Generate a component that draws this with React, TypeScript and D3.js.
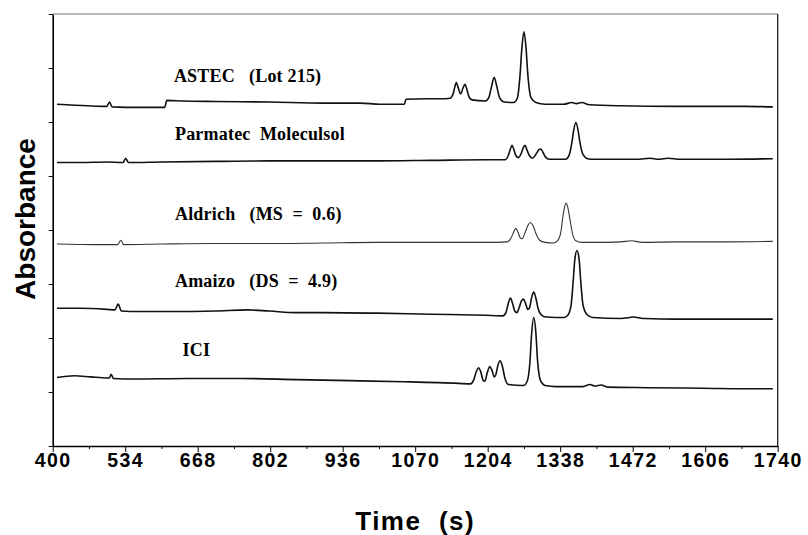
import React, { useEffect, useRef } from "react";
import * as d3 from "d3";

// axis ticks
const timeTicks = [400, 534, 668, 802, 936, 1070, 1204, 1338, 1472, 1606, 1740];
const timeMinor = [467, 601, 735, 869, 1003, 1137, 1271, 1405, 1539, 1673];
const absTicks = [0, 1, 2, 3, 4, 5, 6, 7, 8];

// traces: [time (s), absorbance (offset units)]
const astec: [number, number][] = [
  [408, 6.33], [465, 6.3], [500, 6.29], [505, 6.37], [510, 6.28], [560, 6.27], [607, 6.27],
  [611, 6.4], [640, 6.39], [700, 6.38], [800, 6.37], [900, 6.35], [968, 6.35], [1005, 6.33],
  [1050, 6.33], [1053, 6.42], [1090, 6.43], [1120, 6.43], [1134, 6.44],
  [1140, 6.52], [1143, 6.64], [1146, 6.73], [1149, 6.65], [1154, 6.52], [1158, 6.62],
  [1162, 6.7], [1165, 6.62], [1169, 6.48], [1175, 6.41], [1200, 6.39], [1206, 6.45],
  [1211, 6.65], [1216, 6.83], [1221, 6.65], [1226, 6.45], [1234, 6.37], [1252, 6.36],
  [1259, 6.45], [1264, 6.9], [1267, 7.35], [1271, 7.67], [1275, 7.35], [1278, 6.9],
  [1284, 6.45], [1293, 6.36], [1310, 6.33], [1345, 6.33], [1359, 6.36], [1368, 6.34],
  [1378, 6.36], [1392, 6.32], [1450, 6.3], [1550, 6.29], [1620, 6.29], [1680, 6.29],
  [1731, 6.28],
];

const parmatec: [number, number][] = [
  [408, 5.25], [450, 5.25], [500, 5.26], [530, 5.25], [535, 5.33], [540, 5.25], [600, 5.26],
  [700, 5.27], [800, 5.28], [900, 5.28], [1000, 5.28], [1100, 5.29], [1200, 5.3], [1236, 5.3],
  [1242, 5.38], [1246, 5.5], [1249, 5.57], [1252, 5.5], [1256, 5.38], [1261, 5.34],
  [1266, 5.42], [1270, 5.53], [1273, 5.57], [1276, 5.5], [1281, 5.38], [1287, 5.33],
  [1293, 5.4], [1298, 5.48], [1302, 5.5], [1306, 5.44], [1311, 5.35], [1318, 5.31],
  [1348, 5.31], [1355, 5.4], [1360, 5.65], [1363, 5.85], [1367, 5.99], [1371, 5.85],
  [1374, 5.65], [1380, 5.4], [1389, 5.32], [1400, 5.31], [1480, 5.31], [1504, 5.33],
  [1520, 5.31], [1537, 5.33], [1560, 5.31], [1650, 5.31], [1731, 5.32],
];

const aldrich: [number, number][] = [
  [408, 3.74], [480, 3.73], [520, 3.73], [526, 3.81], [531, 3.73], [600, 3.74], [700, 3.75],
  [800, 3.75], [900, 3.76], [1000, 3.77], [1100, 3.77], [1200, 3.77], [1240, 3.78],
  [1247, 3.85], [1252, 3.96], [1256, 4.03], [1260, 3.96], [1264, 3.86], [1268, 3.84],
  [1273, 3.95], [1278, 4.08], [1283, 4.14], [1288, 4.08], [1293, 3.94], [1300, 3.81],
  [1310, 3.77], [1325, 3.76], [1333, 3.8], [1339, 3.95], [1343, 4.25], [1346, 4.42],
  [1349, 4.5], [1352, 4.42], [1356, 4.2], [1361, 3.92], [1367, 3.8], [1378, 3.77],
  [1400, 3.77], [1450, 3.78], [1470, 3.8], [1490, 3.77], [1550, 3.78], [1650, 3.78],
  [1731, 3.79],
];

const amaizo: [number, number][] = [
  [408, 2.55], [450, 2.55], [500, 2.53], [515, 2.52], [521, 2.63], [527, 2.5], [560, 2.49],
  [620, 2.49], [700, 2.5], [760, 2.52], [800, 2.5], [850, 2.47], [900, 2.47], [1000, 2.46],
  [1100, 2.44], [1200, 2.42], [1232, 2.41], [1238, 2.48], [1242, 2.64], [1246, 2.74],
  [1250, 2.64], [1254, 2.5], [1258, 2.47], [1262, 2.56], [1266, 2.68], [1270, 2.72],
  [1274, 2.64], [1278, 2.53], [1281, 2.55], [1285, 2.74], [1289, 2.85], [1293, 2.74],
  [1297, 2.55], [1303, 2.43], [1312, 2.39], [1345, 2.38], [1352, 2.42], [1358, 2.6],
  [1362, 3.05], [1365, 3.45], [1369, 3.62], [1373, 3.45], [1376, 3.05], [1380, 2.62],
  [1387, 2.44], [1398, 2.38], [1450, 2.36], [1466, 2.38], [1472, 2.39], [1480, 2.38],
  [1495, 2.36], [1550, 2.35], [1650, 2.35], [1731, 2.35],
];

const ici: [number, number][] = [
  [408, 1.27], [440, 1.3], [470, 1.28], [500, 1.26], [505, 1.26], [508, 1.33], [512, 1.25],
  [550, 1.24], [650, 1.25], [750, 1.25], [850, 1.23], [950, 1.21], [1050, 1.19], [1150, 1.16],
  [1172, 1.15], [1178, 1.22], [1183, 1.38], [1187, 1.45], [1191, 1.38], [1196, 1.21],
  [1199, 1.2], [1203, 1.35], [1208, 1.47], [1212, 1.4], [1216, 1.28], [1219, 1.32],
  [1223, 1.5], [1227, 1.58], [1231, 1.48], [1236, 1.25], [1242, 1.14], [1270, 1.12],
  [1277, 1.2], [1282, 1.55], [1285, 2.05], [1289, 2.38], [1293, 2.1], [1296, 1.6],
  [1302, 1.2], [1310, 1.12], [1330, 1.1], [1380, 1.1], [1393, 1.14], [1402, 1.11],
  [1414, 1.13], [1425, 1.09], [1500, 1.08], [1600, 1.07], [1700, 1.06], [1731, 1.06],
];

const traceNames = [
  "ASTEC   (Lot 215)",
  "Parmatec  Moleculsol",
  "Aldrich   (MS  =  0.6)",
  "Amaizo   (DS  =  4.9)",
  "ICI",
];
const traceData = [astec, parmatec, aldrich, amaizo, ici];

export default function App() {
  const svgRef = useRef<SVGSVGElement>(null);

  useEffect(() => {
    if (!svgRef.current) return;
    const svg = d3.select(svgRef.current);
    svg.selectAll("*").remove();

    const left = 52.7, right = 777.7, top = 14, bottom = 446;
    const x = d3.scaleLinear().domain([400, 1740]).range([left, right]);
    const y = d3.scaleLinear().domain([0, 8]).range([bottom, top]);

    // frame: top and right borders
    svg.append("line")
      .attr("x1", left).attr("x2", right).attr("y1", top).attr("y2", top)
      .attr("stroke", "#777").attr("stroke-width", 1);
    svg.append("line")
      .attr("x1", right).attr("x2", right).attr("y1", top).attr("y2", bottom)
      .attr("stroke", "#222").attr("stroke-width", 1.3);

    // minor x ticks
    const minorAxis = svg.append("g")
      .attr("transform", `translate(0,${bottom})`)
      .call(d3.axisBottom(x).tickValues(timeMinor).tickSize(3).tickFormat(() => ""));
    minorAxis.select(".domain").remove();

    // major x axis
    const xAxis = svg.append("g")
      .attr("transform", `translate(0,${bottom})`)
      .call(
        d3.axisBottom(x)
          .tickValues(timeTicks)
          .tickSize(6)
          .tickSizeOuter(0)
          .tickPadding(1)
          .tickFormat(d3.format("d"))
      );
    xAxis.select(".domain").attr("stroke-width", 1.6);
    xAxis.selectAll("text")
      .attr("font-family", "'Liberation Sans', Arial, sans-serif")
      .attr("font-weight", "bold")
      .attr("font-size", 19.5)
      .attr("letter-spacing", 1.4)
      .attr("fill", "#000");

    // y axis, ticks only
    const yAxis = svg.append("g")
      .attr("transform", `translate(${left},0)`)
      .call(d3.axisLeft(y).tickValues(absTicks).tickSize(4).tickSizeOuter(0).tickFormat(() => ""));
    yAxis.select(".domain").attr("stroke-width", 1.6);

    // traces
    const line = d3.line<[number, number]>()
      .x((d) => x(d[0]))
      .y((d) => y(d[1]))
      .curve(d3.curveMonotoneX);

    svg.append("g")
      .selectAll("path")
      .data(traceData)
      .enter()
      .append("path")
      .attr("d", (d) => line(d))
      .attr("fill", "none")
      .attr("stroke", (d, i) => (i === 2 ? "#333" : "#111"))
      .attr("stroke-width", (d, i) => (i === 2 ? 1.1 : 1.6))
      .attr("stroke-linejoin", "round");

    // trace labels (baseline anchor in data units)
    const labelPos = [
      [624, 6.746],
      [626, 5.667],
      [626, 4.185],
      [626, 2.95],
      [640, 1.667],
    ];
    svg.append("g")
      .selectAll("text")
      .data(traceNames)
      .enter()
      .append("text")
      .attr("x", (d, i) => x(labelPos[i][0]))
      .attr("y", (d, i) => y(labelPos[i][1]))
      .attr("font-family", "'Liberation Serif', 'Times New Roman', serif")
      .attr("font-weight", "bold")
      .attr("font-size", 18)
      .attr("letter-spacing", 0.2)
      .style("white-space", "pre")
      .attr("fill", "#000")
      .text((d) => d);

    // axis titles
    svg.append("text")
      .attr("x", (left + right) / 2)
      .attr("y", 530)
      .attr("text-anchor", "middle")
      .attr("font-family", "'Liberation Sans', Arial, sans-serif")
      .attr("font-weight", "bold")
      .attr("font-size", 26)
      .attr("letter-spacing", 1.5)
      .style("white-space", "pre")
      .text("Time  (s)");

    svg.append("text")
      .attr("transform", "translate(35,219) rotate(-90)")
      .attr("text-anchor", "middle")
      .attr("font-family", "'Liberation Sans', Arial, sans-serif")
      .attr("font-weight", "bold")
      .attr("font-size", 28)
      .text("Absorbance");
  }, []);

  return (
    <svg
      ref={svgRef}
      width={808}
      height={535}
      style={{ position: "absolute", left: 0, top: 0, background: "#fff" }}
    />
  );
}
